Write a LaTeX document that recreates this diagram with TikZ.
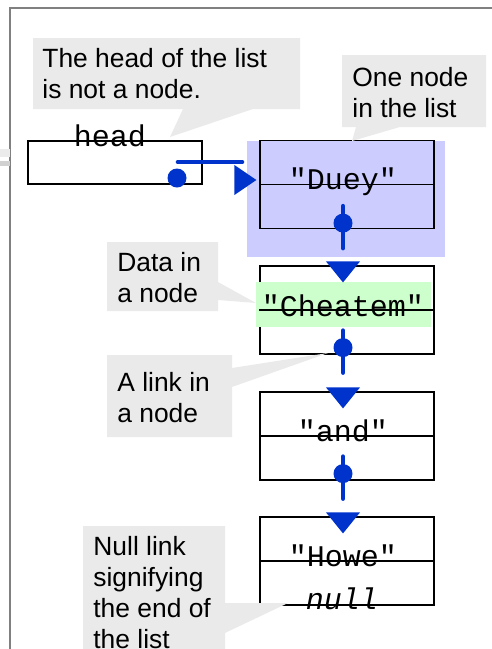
\documentclass[tikz,border=0pt]{standalone}
\usepackage{fontspec}
\usetikzlibrary{calc}
\newfontfamily\notefont{Liberation Sans}
\newfontfamily\codefont{Liberation Mono}
\definecolor{linkblue}{RGB}{0,51,204}
\definecolor{notegray}{RGB}{234,234,234}
\definecolor{nodeblue}{RGB}{204,204,255}
\definecolor{datagreen}{RGB}{204,255,204}
\definecolor{framegray}{RGB}{128,128,128}
\tikzset{
	cell/.style={draw, line width=0.6pt, minimum width=87pt, minimum height=44pt, inner sep=0pt},
	code/.style={font=\codefont\fontsize{15}{18}\selectfont, inner sep=0pt, anchor=base},
	note/.style={fill=notegray},
	notetext/.style={font=\notefont\fontsize{13.2}{15.5}\selectfont, align=left, inner sep=0pt, anchor=base west},
	link/.style={draw=linkblue, line width=2.3pt, line cap=round},
	ptr/.style={circle, fill=linkblue, minimum size=9.5pt, inner sep=0pt},
}
\def\midline(#1){\draw[line width=0.6pt] (#1.west) -- (#1.east);}
\def\linkto(#1)(#2){\draw[link] ($(#1)+(0,-17)$) -- ($(#1)+(0,25)$);
	\fill[linkblue] ($(#2.north)+(-21,-4)$) -- ++(34,0) -- ++(-17,21) -- cycle;}

\begin{document}
\begin{tikzpicture}[x=0.5pt, y=-0.5pt]
		%%%%% START %%%%%
		\useasboundingbox (0,0) rectangle (492,649);
		
		\draw[line width=0.6pt, color=framegray] (10,649) -- (10,8) -- (492,8);
		\fill[color=black!8] (0,149) rectangle (10,157);
		\fill[color=black!18] (0,161) rectangle (10,166);
		
		% the head
		\node[cell, minimum height=21.5pt] (head) at (115,162.5) {};
		\node[code] (headtext) at (110,146) {head};
		\node[ptr] (headptr) at (177,178) {};
		
		% the list nodes
		\fill[color=nodeblue] (247,141) rectangle (445,257);
		\node[cell] (duey) at (347,184.5) {};
		\node[cell] (cheatem) at (347,310) {};
		\node[cell] (and) at (347,436) {};
		\node[cell] (howe) at (347,561) {};
		\fill[color=datagreen] (256,282) rectangle (431,327);
		
		\midline(duey)
		\midline(cheatem)
		\midline(and)
		\midline(howe)
		
		\node[code] (dueytext) at ($(duey.center)+(-4,5)$) {"Duey"};
		\node[code] (cheatemtext) at ($(cheatem.center)+(-4,6)$) {"Cheatem"};
		\node[code] (andtext) at ($(and.center)+(-4,5)$) {"and"};
		\node[code] (howetext) at ($(howe.center)+(-4,5)$) {"Howe"};
		\node[code, font=\codefont\itshape\fontsize{15}{18}\selectfont] (nulltext) at ($(howe.south)+(-5,4)$) {null};
		
		% links
		\draw[link] ($(headptr)+(1,-16)$) -- ($(headptr)+(65,-16)$);
		\fill[linkblue] ($(duey.west)+(-25,-19.5)$) -- ++(0,30) -- ++(22,-15) -- cycle;
		\node[ptr] (dueyptr) at ($(duey.south)+(-4,-6)$) {};
		\node[ptr] (cheatemptr) at ($(cheatem.south)+(-4,-7)$) {};
		\node[ptr] (andptr) at ($(and.south)+(-4,-7)$) {};
		\linkto(dueyptr)(cheatem)
		\linkto(cheatemptr)(and)
		\linkto(andptr)(howe)
		
		% callouts (base = last line)
		\fill[note] (33,38) -- (300,38) -- (300,109) -- (253,109) -- (170,137) -- (183,109) -- (33,109) -- cycle;
		\node[notetext] (headnote) at (42,98) {The head of the list\\is not a node.};
		
		\fill[note] (342,55) -- (486,55) -- (486,127) -- (400,127) -- (352,141) -- (356,127) -- (342,127) -- cycle;
		\node[notetext] (nodenote) at (352,117) {One node\\in the list};
		
		\fill[note] (107,242) -- (218,242) -- (218,282) -- (256,303) -- (218,300) -- (218,311) -- (107,311) -- cycle;
		\node[notetext] (datanote) at (117,302) {Data in\\a node};
		
		\fill[note] (107,355) -- (232,355) -- (232,368) -- (328,353) -- (232,387) -- (232,437) -- (107,437) -- cycle;
		\node[notetext] (linknote) at (117,422) {A link in\\a node};
		
		\fill[note] (83,526) -- (225,526) -- (225,603) -- (288,603) -- (225,633) -- (225,660) -- (83,660) -- cycle;
		\node[notetext] (nullnote) at (93,648) {Null link\\signifying\\the end of\\the list};
		
		%%%%% END %%%%%
	\end{tikzpicture}
\end{document}
